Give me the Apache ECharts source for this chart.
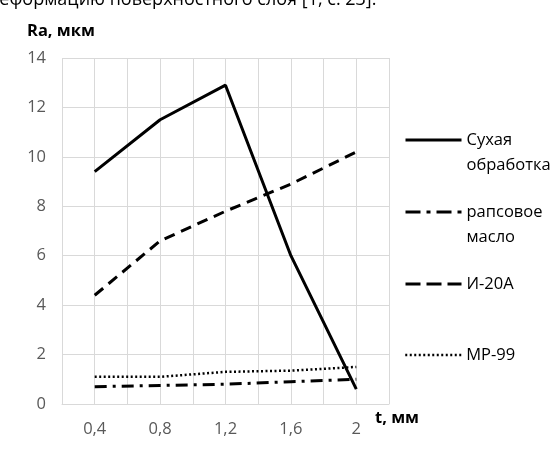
<!DOCTYPE html>
<html><head><meta charset="utf-8">
<script src="https://cdn.jsdelivr.net/npm/echarts@6/dist/echarts.min.js"></script>
<style>html,body{margin:0;padding:0;background:#fff}#c{width:558px;height:456px}</style>
</head><body><div id="c"></div>
<script>
const tValues = [0.4, 0.8, 1.2, 1.6, 2.0];
const dry = [9.4, 11.5, 12.9, 6.0, 0.6];
const rapeseed = [0.7, 0.75, 0.8, 0.9, 1.0];
const i20a = [4.4, 6.6, 7.8, 8.9, 10.2];
const mr99 = [1.1, 1.1, 1.3, 1.35, 1.5];
const seriesNames = ['Сухая обработка', 'рапсовое масло', 'И-20А', 'МР-99'];
const legendLabels = ['\nСухая\nобработка', '\nрапсовое\nмасло', 'И-20А', 'МР-99'];
const xTitle = 't, мм';
const yTitle = 'Ra, мкм';
const headerText = 'деформацию поверхностного слоя [1, с. 23].';

const font = '"Open Sans", "Noto Sans", sans-serif';
const pair = arr => tValues.map((t, i) => [t, arr[i]]);
const styles = [
  {width: 3, type: 'solid'},
  {width: 3, type: [12, 6, 3, 6]},
  {width: 3, type: [11, 7]},
  {width: 2.5, type: [2, 2.5]}
];
const legendDash = ['solid', [15, 6, 4, 6], [15, 6], [2, 2.5]];
const datas = [dry, rapeseed, i20a, mr99];
const legendCenters = [140, 212, 284, 355];
const LH = 25;

const chart = echarts.init(document.getElementById('c'));
chart.setOption({
  animation: false,
  textStyle: {fontFamily: font},
  grid: {left: 62, right: 169, top: 58, bottom: 52, containLabel: false},
  xAxis: {
    type: 'value', min: 0.2, max: 2.2, interval: 0.2,
    axisLine: {show: true, lineStyle: {color: '#d9d9d9', width: 1}},
    axisTick: {show: false},
    splitLine: {show: true, lineStyle: {color: '#d9d9d9', width: 1}},
    axisLabel: {
      color: '#595959', fontSize: 16.5, margin: 17, fontFamily: font,
      showMinLabel: true, showMaxLabel: true,
      formatter: v => {
        const k = Math.round(v * 10);
        if (k % 4 !== 0 || k < 4 || k > 20) return '';
        return String(k / 10).replace('.', ',');
      }
    }
  },
  yAxis: {
    type: 'value', min: 0, max: 14, interval: 2,
    axisLine: {show: false}, axisTick: {show: false},
    splitLine: {show: true, lineStyle: {color: '#d9d9d9', width: 1}},
    axisLabel: {color: '#595959', fontSize: 16.5, margin: 16, fontFamily: font}
  },
  legend: seriesNames.map((n, i) => ({
    data: [n], orient: 'vertical', left: 404,
    top: legendCenters[i] - (i < 2 ? 1.5 * LH : LH / 2),
    itemWidth: 56, itemHeight: 20, itemGap: 0, padding: 0,
    selectedMode: false,
    itemStyle: {opacity: 0, borderWidth: 0},
    lineStyle: {width: styles[i].width, type: legendDash[i], color: '#000', cap: 'butt'},
    formatter: () => legendLabels[i],
    textStyle: {color: '#000', fontSize: 16.5, fontFamily: font, lineHeight: LH}
  })),
  graphic: [
    {type: 'text', left: 27, top: 23, style: {text: yTitle, font: 'bold 16.5px ' + font, fill: '#000'}},
    {type: 'text', left: 375, top: 410, style: {text: xTitle, font: 'bold 16.5px ' + font, fill: '#000'}},
    {type: 'text', left: -11, top: -9, style: {text: headerText, font: '18px ' + font, fill: '#000'}}
  ],
  series: seriesNames.map((n, i) => ({
    name: n, type: 'line', data: pair(datas[i]), symbol: 'none',
    lineStyle: {color: '#000', width: styles[i].width, type: styles[i].type, cap: 'butt'},
    itemStyle: {color: '#000'}
  }))
});
</script></body></html>
